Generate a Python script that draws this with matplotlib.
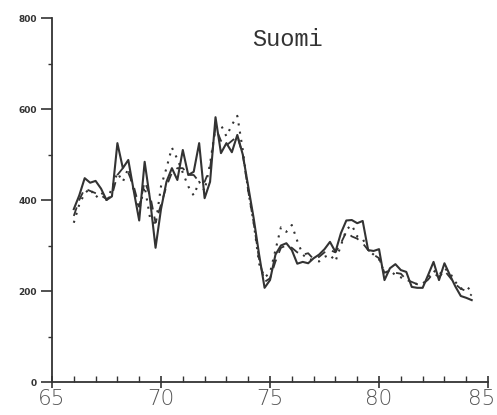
import numpy as np
import matplotlib.pyplot as plt

# quarterly series, 1966Q1 .. 1984Q2
years = 66 + 0.25 * np.arange(74)

solid = [380, 410, 448, 438, 442, 425, 400, 408, 525, 470,
         488, 420, 355, 484, 400, 295, 380, 440, 470, 444,
         510, 455, 462, 525, 404, 440, 582, 503, 525, 505,
         543, 500, 430, 360, 280, 207, 224, 280, 300, 305,
         290, 260, 264, 261, 272, 280, 292, 308, 286, 327,
         355, 356, 349, 354, 290, 288, 292, 224, 250, 259,
         246, 242, 209, 207, 207, 235, 264, 224, 261, 235,
         210, 189, 185, 180]

dashed = [365, 400, 425, 420, 415, 410, 402, 410, 455, 470,
          460, 430, 385, 440, 410, 350, 390, 430, 460, 470,
          470, 455, 455, 440, 440, 470, 560, 530, 520, 530,
          540, 500, 420, 350, 270, 220, 228, 265, 295, 300,
          295, 285, 280, 283, 270, 275, 285, 290, 285, 305,
          330, 320, 315, 305, 290, 280, 272, 240, 245, 240,
          238, 225, 220, 215, 215, 225, 240, 230, 245, 230,
          215, 205, 200, 190]

dotted = [350, 390, 415, 425, 405, 418, 400, 425, 460, 440,
          470, 420, 380, 430, 360, 345, 430, 470, 515, 490,
          460, 430, 410, 440, 420, 480, 560, 565, 540, 565,
          585, 510, 420, 350, 260, 230, 240, 290, 340, 330,
          345, 310, 280, 270, 268, 265, 275, 280, 265, 300,
          335, 345, 320, 315, 290, 280, 270, 240, 245, 235,
          230, 225, 220, 215, 215, 230, 245, 235, 250, 240,
          220, 205, 210, 200]

xticks = [65, 70, 75, 80, 85]
yticks = [0, 200, 400, 600, 800]

fig = plt.figure(figsize=(4.97, 4.15), dpi=100)
ax = fig.add_axes([0.1046, 0.0795, 0.8774, 0.8771])

ink = '#333333'
ax.plot(years, solid, color=ink, linewidth=1.5, linestyle='-')
ax.plot(years, dashed, color=ink, linewidth=1.3, linestyle=(0, (5, 4)))
ax.plot(years, dotted, color=ink, linewidth=1.5, linestyle=(0, (1, 3)))

ax.set_xlim(65, 85)
ax.set_ylim(0, 800)

for s in ['top', 'right']:
    ax.spines[s].set_visible(False)
ax.spines['left'].set_color(ink)
ax.spines['bottom'].set_color(ink)
ax.spines['left'].set_linewidth(1.3)
ax.spines['bottom'].set_linewidth(1.3)

xfont = dict(fontsize=15.5, color='#555555', family='DejaVu Sans', fontweight='light')

ax.set_xticks(xticks)
ax.set_xticks(np.arange(65, 86, 1), minor=True)
ax.set_yticks(yticks)
ax.set_yticks(np.arange(100, 800, 200), minor=True)
# last year label is placed by hand below so it stays inside the page
ax.set_xticklabels([str(v) for v in xticks[:-1]] + [''], **xfont)
ax.set_yticklabels([str(v) for v in yticks], fontsize=6.5, fontweight='bold', color=ink)
ax.annotate(str(xticks[-1]), xy=(xticks[-1], 0), xycoords='data',
            xytext=(-4.5, -5), textcoords='offset points',
            ha='center', va='top', annotation_clip=False, **xfont)

ax.tick_params(axis='x', which='major', direction='inout', length=8, width=1.2, color=ink, pad=1)
ax.tick_params(axis='x', which='minor', direction='in', length=4, width=1.0, color=ink)
ax.tick_params(axis='y', which='major', direction='out', length=8, width=1.2, color=ink, pad=3)
ax.tick_params(axis='y', which='minor', direction='out', length=3, width=1.0, color=ink)

ax.text(0.539, 0.94, 'Suomi', transform=ax.transAxes, ha='center', va='center',
        fontsize=17, family='Liberation Mono', color=ink)

plt.savefig('out.png', dpi=100)
